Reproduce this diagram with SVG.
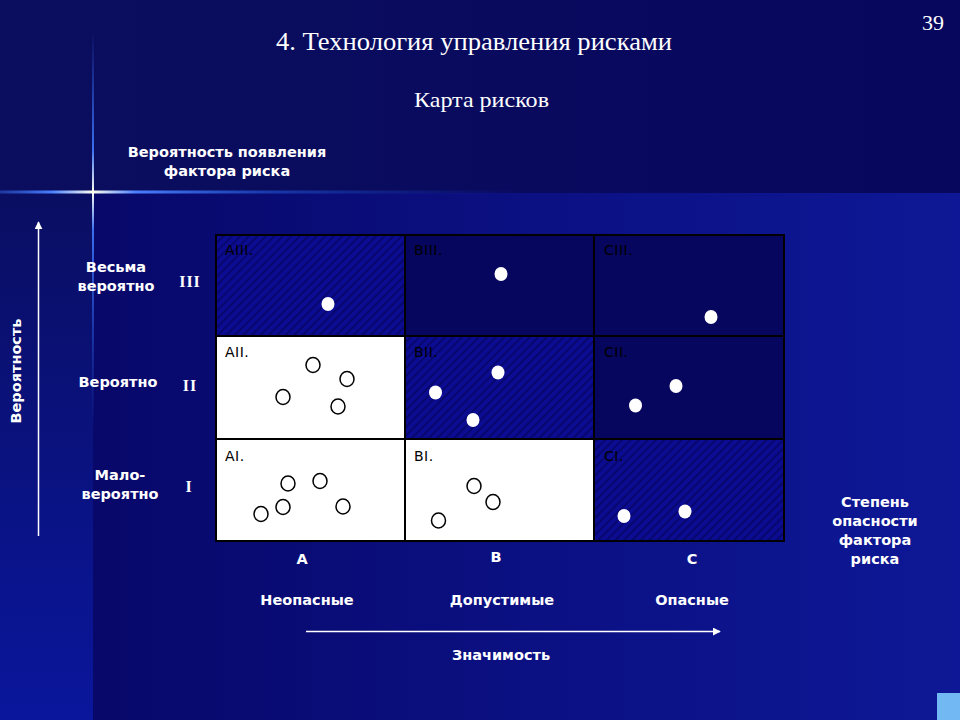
<svg xmlns="http://www.w3.org/2000/svg" width="960" height="720" viewBox="0 0 960 720">
<defs>
<linearGradient id="bgLow" x1="93" y1="0" x2="960" y2="0" gradientUnits="userSpaceOnUse">
<stop offset="0" stop-color="#08086a"/>
<stop offset="0.5" stop-color="#0b1082"/>
<stop offset="1" stop-color="#0e1896"/>
</linearGradient>
<linearGradient id="bgLeft" x1="0" y1="193" x2="0" y2="720" gradientUnits="userSpaceOnUse">
<stop offset="0" stop-color="#0a0e62"/>
<stop offset="1" stop-color="#0a169c"/>
</linearGradient>
<linearGradient id="bgTop" x1="0" y1="0" x2="960" y2="0" gradientUnits="userSpaceOnUse">
<stop offset="0" stop-color="#0b0e5e"/>
<stop offset="1" stop-color="#07075e"/>
</linearGradient>
<linearGradient id="glareH" x1="0" y1="0" x2="520" y2="0" gradientUnits="userSpaceOnUse">
<stop offset="0" stop-color="#3060e0" stop-opacity="0.5"/>
<stop offset="0.1" stop-color="#4a80ff"/>
<stop offset="0.179" stop-color="#fffff0"/>
<stop offset="0.26" stop-color="#4a80ff"/>
<stop offset="0.5" stop-color="#2050d0" stop-opacity="0.7"/>
<stop offset="1" stop-color="#1030b0" stop-opacity="0"/>
</linearGradient>
<linearGradient id="glareV" x1="0" y1="30" x2="0" y2="430" gradientUnits="userSpaceOnUse">
<stop offset="0" stop-color="#3060e0" stop-opacity="0"/>
<stop offset="0.3" stop-color="#3a70f0"/>
<stop offset="0.405" stop-color="#fffff0"/>
<stop offset="0.5" stop-color="#3a70f0"/>
<stop offset="1" stop-color="#2050d0" stop-opacity="0"/>
</linearGradient>
<pattern id="hatch" width="6" height="6" patternUnits="userSpaceOnUse" patternTransform="rotate(45)">
<rect width="6" height="6" fill="#0c0c92"/>
<rect width="2" height="6" fill="#07076e"/>
</pattern>
<marker id="arrow" viewBox="0 0 10 10" refX="9" refY="5" markerWidth="8" markerHeight="8" markerUnits="userSpaceOnUse" orient="auto">
<path d="M0,0 L10,5 L0,10 z" fill="#ffffff"/>
</marker>
<style>
.title{font-family:"Liberation Serif","Times New Roman",serif;fill:#ffffff}
.lbl{font-family:"DejaVu Sans","Verdana",sans-serif;font-weight:bold;font-size:14.5px;fill:#ffffff;text-anchor:middle}
.rom{font-family:"Liberation Serif","Times New Roman",serif;font-weight:bold;font-size:16px;fill:#ffffff;text-anchor:middle;letter-spacing:1px}
.cell{stroke:#000000;stroke-width:2}
.clbl{font-family:"DejaVu Sans","Verdana",sans-serif;font-size:14px;fill:#000000;letter-spacing:0.5px}
.dot{fill:#ffffff}
.ring{fill:#ffffff;stroke:#000000;stroke-width:1.5}
.axis{stroke:#ffffff;stroke-width:1.5;fill:none}
</style>
</defs>

<!-- background -->
<rect x="0" y="0" width="960" height="720" fill="url(#bgLow)"/>
<rect x="0" y="193" width="93" height="527" fill="url(#bgLeft)"/>
<rect x="0" y="0" width="960" height="193" fill="url(#bgTop)"/>
<rect x="0" y="190.5" width="520" height="3" fill="url(#glareH)"/>
<rect x="92" y="30" width="2" height="400" fill="url(#glareV)"/>
<rect x="937" y="693" width="23" height="27" fill="#72b8f2"/>

<!-- titles -->
<text class="title" x="276" y="50" font-size="26" textLength="396" lengthAdjust="spacingAndGlyphs">4. Технология управления рисками</text>
<text class="title" x="414" y="107" font-size="22" textLength="135" lengthAdjust="spacingAndGlyphs">Карта рисков</text>
<text class="title" x="944" y="30" font-size="22" text-anchor="end">39</text>

<g id="label-top">
<text class="lbl" x="227" y="157">Вероятность появления</text>
<text class="lbl" x="227" y="176">фактора риска</text>
</g>

<g id="label-vertical">
<text class="lbl" transform="translate(21,371) rotate(-90)" x="0" y="0">Вероятность</text>
</g>

<g id="row-labels">
<text class="lbl" x="116" y="272">Весьма</text>
<text class="lbl" x="116" y="291">вероятно</text>
<text class="rom" x="190" y="287">III</text>
<text class="lbl" x="118" y="387">Вероятно</text>
<text class="rom" x="190" y="391">II</text>
<text class="lbl" x="120" y="480">Мало-</text>
<text class="lbl" x="120" y="499">вероятно</text>
<text class="rom" x="189" y="492">I</text>
</g>

<!-- grid cells -->
<g id="cell-AIII">
<rect class="cell" x="216" y="235" width="189" height="101" fill="url(#hatch)"/>
<text class="clbl" x="225" y="255">AIII.</text>
<ellipse class="dot" cx="328" cy="304" rx="6.5" ry="7"/>
</g>
<g id="cell-BIII">
<rect class="cell" x="405" y="235" width="189" height="101" fill="#06065e"/>
<text class="clbl" x="414" y="255">BIII.</text>
<ellipse class="dot" cx="501" cy="274" rx="6.5" ry="7"/>
</g>
<g id="cell-CIII">
<rect class="cell" x="594" y="235" width="190" height="101" fill="#06065e"/>
<text class="clbl" x="604" y="255">CIII.</text>
<ellipse class="dot" cx="711" cy="317" rx="6.5" ry="7"/>
</g>
<g id="cell-AII">
<rect class="cell" x="216" y="336" width="189" height="103" fill="#ffffff"/>
<text class="clbl" x="225" y="357">AII.</text>
<ellipse class="ring" cx="313" cy="365" rx="7" ry="7.5"/>
<ellipse class="ring" cx="347" cy="379" rx="7" ry="7.5"/>
<ellipse class="ring" cx="283" cy="397" rx="7" ry="7.5"/>
<ellipse class="ring" cx="338" cy="406.5" rx="7" ry="7.5"/>
</g>
<g id="cell-BII">
<rect class="cell" x="405" y="336" width="189" height="103" fill="url(#hatch)"/>
<text class="clbl" x="414" y="357">BII.</text>
<ellipse class="dot" cx="435.5" cy="392.5" rx="6.5" ry="7"/>
<ellipse class="dot" cx="498" cy="372.5" rx="6.5" ry="7"/>
<ellipse class="dot" cx="473" cy="420" rx="6.5" ry="7"/>
</g>
<g id="cell-CII">
<rect class="cell" x="594" y="336" width="190" height="103" fill="#06065e"/>
<text class="clbl" x="604" y="357">CII.</text>
<ellipse class="dot" cx="635.5" cy="405.5" rx="6.5" ry="7"/>
<ellipse class="dot" cx="676" cy="386" rx="6.5" ry="7"/>
</g>
<g id="cell-AI">
<rect class="cell" x="216" y="439" width="189" height="102" fill="#ffffff"/>
<text class="clbl" x="225" y="461">AI.</text>
<ellipse class="ring" cx="288" cy="483.5" rx="7" ry="7.5"/>
<ellipse class="ring" cx="320" cy="481" rx="7" ry="7.5"/>
<ellipse class="ring" cx="283" cy="507" rx="7" ry="7.5"/>
<ellipse class="ring" cx="261" cy="514" rx="7" ry="7.5"/>
<ellipse class="ring" cx="343" cy="506.5" rx="7" ry="7.5"/>
</g>
<g id="cell-BI">
<rect class="cell" x="405" y="439" width="189" height="102" fill="#ffffff"/>
<text class="clbl" x="414" y="461">BI.</text>
<ellipse class="ring" cx="474" cy="486" rx="7" ry="7.5"/>
<ellipse class="ring" cx="493" cy="502" rx="7" ry="7.5"/>
<ellipse class="ring" cx="438.5" cy="520.5" rx="7" ry="7.5"/>
</g>
<g id="cell-CI">
<rect class="cell" x="594" y="439" width="190" height="102" fill="url(#hatch)"/>
<text class="clbl" x="604" y="461">CI.</text>
<ellipse class="dot" cx="624" cy="516" rx="6.5" ry="7"/>
<ellipse class="dot" cx="685" cy="511.5" rx="6.5" ry="7"/>
</g>

<g id="column-labels">
<text class="lbl" x="302" y="564" font-size="13">A</text>
<text class="lbl" x="496" y="562" font-size="13">B</text>
<text class="lbl" x="692" y="564" font-size="13">C</text>
<text class="lbl" x="307" y="605">Неопасные</text>
<text class="lbl" x="502" y="605">Допустимые</text>
<text class="lbl" x="692" y="605">Опасные</text>
<text class="lbl" x="501" y="660">Значимость</text>
</g>

<g id="label-right">
<text class="lbl" x="875" y="507">Степень</text>
<text class="lbl" x="875" y="526">опасности</text>
<text class="lbl" x="875" y="545">фактора</text>
<text class="lbl" x="875" y="564">риска</text>
</g>

<g id="connectors">
<line class="axis" x1="38.5" y1="536" x2="38.5" y2="222" marker-end="url(#arrow)"/>
<line class="axis" x1="306" y1="631.5" x2="720" y2="631.5" marker-end="url(#arrow)"/>
</g>
</svg>
